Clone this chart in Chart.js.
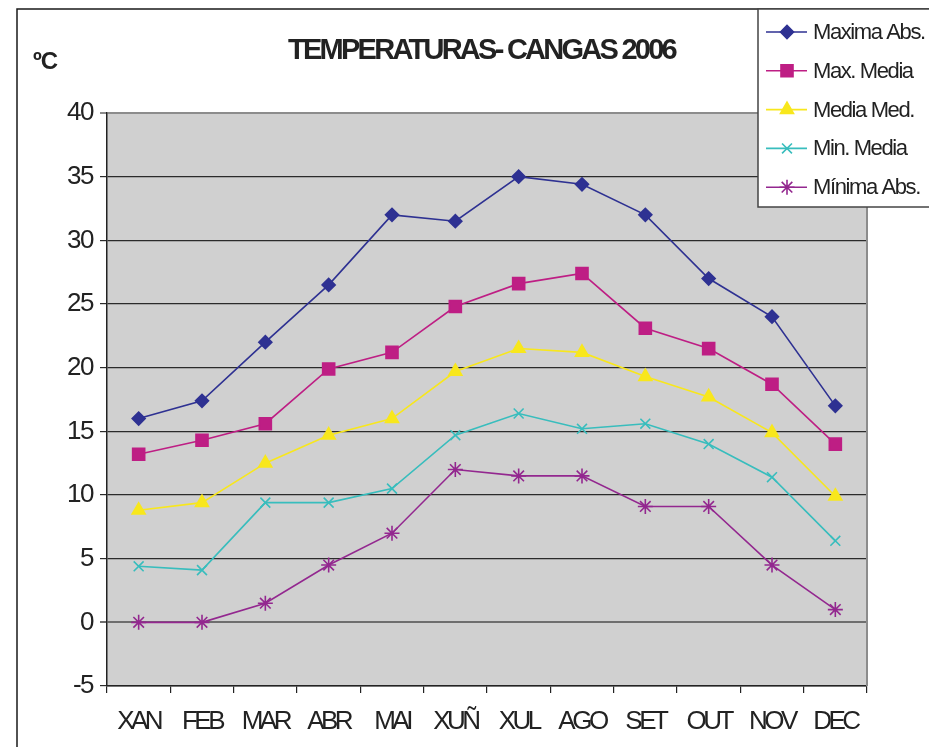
<!DOCTYPE html>
<html>
<head>
<meta charset="utf-8">
<script src="https://cdn.jsdelivr.net/npm/chart.js@4/dist/chart.umd.min.js"></script>
<style>
  html, body { margin: 0; padding: 0; background: #fff; }
  #wrap { position: relative; width: 929px; height: 747px; }
</style>
</head>
<body>
<div id="wrap"><canvas id="myChart" width="929" height="747"></canvas></div>
<script>
const meses = ['XAN', 'FEB', 'MAR', 'ABR', 'MAI', 'XUÑ', 'XUL', 'AGO', 'SET', 'OUT', 'NOV', 'DEC'];
const maximaAbs = [16, 17.4, 22, 26.5, 32, 31.5, 35, 34.4, 32, 27, 24, 17];
const maxMedia = [13.2, 14.3, 15.6, 19.9, 21.2, 24.8, 26.6, 27.4, 23.1, 21.5, 18.7, 14];
const mediaMed = [8.8, 9.4, 12.5, 14.7, 16, 19.7, 21.5, 21.2, 19.3, 17.7, 14.9, 9.9];
const minMedia = [4.4, 4.1, 9.4, 9.4, 10.5, 14.7, 16.4, 15.2, 15.6, 14, 11.4, 6.4];
const minimaAbs = [0, 0, 1.5, 4.5, 7, 12, 11.5, 11.5, 9.1, 9.1, 4.5, 1];
const yMin = -5;
const yMax = 40;
const yPaso = 5;
const titulo = 'TEMPERATURAS- CANGAS 2006';
const unidade = 'ºC';

const fonte = "'Liberation Sans', Arial, sans-serif";

function serie(label, data, color, estilo, radio) {
    return {
        label: label,
        data: data,
        borderColor: color,
        backgroundColor: color,
        pointBackgroundColor: color,
        pointBorderColor: color,
        pointStyle: estilo,
        pointRadius: radio,
        pointHoverRadius: radio,
        pointBorderWidth: 1.6,
        borderWidth: 1.6,
        tension: 0
    };
}

// fondo gris, marco e textos
const decoracion = {
    id: 'decoracion',
    beforeDraw(chart) {
        const ctx = chart.ctx;
        const a = chart.chartArea;
        ctx.save();
        ctx.fillStyle = '#fff';
        ctx.fillRect(0, 0, chart.width, chart.height);
        ctx.fillStyle = '#d0d0d0';
        ctx.fillRect(a.left, a.top, a.right - a.left, a.bottom - a.top);
        ctx.restore();
        ctx.letterSpacing = '-1.5px';
    },
    afterDatasetsDraw(chart) {
        chart.ctx.letterSpacing = '-3.5px';
    },
    afterDraw(chart) {
        const ctx = chart.ctx;
        const a = chart.chartArea;
        ctx.letterSpacing = '0px';
        ctx.save();

        // borde dereito do area
        ctx.strokeStyle = '#8c8c8c';
        ctx.lineWidth = 2;
        ctx.beginPath();
        ctx.moveTo(a.right, a.top);
        ctx.lineTo(a.right, a.bottom);
        ctx.stroke();

        // marco exterior
        ctx.strokeStyle = '#1a1a1a';
        ctx.lineWidth = 1.5;
        ctx.beginPath();
        ctx.moveTo(17, chart.height + 5);
        ctx.lineTo(17, 9);
        ctx.lineTo(chart.width + 5, 9);
        ctx.stroke();

        // titulo
        ctx.fillStyle = '#222';
        ctx.font = 'bold 29px ' + fonte;
        ctx.textBaseline = 'middle';
        ctx.textAlign = 'left';
        const w0 = ctx.measureText(titulo).width;
        const esp = (387 - w0) / titulo.length;
        ctx.letterSpacing = esp + 'px';
        ctx.fillText(titulo, 288, 51);

        ctx.font = 'bold 24px ' + fonte;
        ctx.letterSpacing = '-1px';
        ctx.fillText(unidade, 33, 62);

        // lenda
        ctx.letterSpacing = '0px';
        ctx.fillStyle = '#fff';
        ctx.fillRect(758, 9, 200, 198);
        ctx.strokeStyle = '#444';
        ctx.lineWidth = 1.5;
        ctx.strokeRect(758, 9, 200, 198);

        ctx.font = '22px ' + fonte;
        ctx.letterSpacing = '-1.4px';
        chart.data.datasets.forEach((ds, i) => {
            const y = 32 + i * 38.8;
            ctx.strokeStyle = ds.borderColor;
            ctx.lineWidth = 1.6;
            ctx.beginPath();
            ctx.moveTo(766, y);
            ctx.lineTo(807, y);
            ctx.stroke();
            ctx.fillStyle = ds.backgroundColor;
            ctx.strokeStyle = ds.borderColor;
            ctx.lineWidth = 1.6;
            if (Chart.helpers && Chart.helpers.drawPoint) {
                Chart.helpers.drawPoint(ctx, {
                    pointStyle: ds.pointStyle,
                    radius: ds.pointRadius,
                    rotation: 0,
                    borderWidth: 1.6
                }, 787, y);
            }
            ctx.fillStyle = '#222';
            ctx.textBaseline = 'middle';
            ctx.fillText(ds.label, 813, y + 1);
        });
        ctx.restore();
        ctx.letterSpacing = '0px';
    }
};

const ctx = document.getElementById('myChart').getContext('2d');
const myChart = new Chart(ctx, {
    type: 'line',
    data: {
        labels: meses,
        datasets: [
            serie('Maxima Abs.', maximaAbs, '#2e3192', 'rectRot', 6.5),
            serie('Max. Media', maxMedia, '#be1e84', 'rect', 8.5),
            serie('Media Med.', mediaMed, '#f8e71c', 'triangle', 7.5),
            serie('Min. Media', minMedia, '#38bdbd', 'crossRot', 7),
            serie('Mínima Abs.', minimaAbs, '#93278f', 'star', 7.5)
        ]
    },
    options: {
        responsive: false,
        animation: false,
        events: [],
        layout: {
            padding: { left: 0, top: 113, right: 62, bottom: 0 }
        },
        plugins: {
            legend: { display: false },
            title: { display: false },
            tooltip: { enabled: false }
        },
        scales: {
            x: {
                offset: true,
                afterFit(scale) { scale.height = 61; },
                grid: {
                    offset: true,
                    drawOnChartArea: false,
                    drawTicks: true,
                    tickLength: 7,
                    color: '#222',
                    lineWidth: 1.2
                },
                border: { color: '#222', width: 1.5 },
                ticks: {
                    z: 1,
                    padding: 13,
                    color: '#222',
                    maxRotation: 0,
                    autoSkip: false,
                    font: { family: fonte, size: 26 }
                }
            },
            y: {
                min: yMin,
                max: yMax,
                afterFit(scale) { scale.width = 107; },
                grid: {
                    drawTicks: true,
                    tickLength: 7,
                    color: (c) => {
                        if (c.tick && c.tick.value === yMax) return '#8c8c8c';
                        if (c.tick && c.tick.value === 0) return '#6e6e6e';
                        return '#2b2b2b';
                    },
                    lineWidth: (c) => {
                        if (c.tick && (c.tick.value === yMax || c.tick.value === 0)) return 2;
                        return 1.2;
                    }
                },
                border: { color: '#222', width: 1.5 },
                ticks: {
                    stepSize: yPaso,
                    padding: 7,
                    color: '#222',
                    font: { family: fonte, size: 26 }
                }
            }
        }
    },
    plugins: [decoracion]
});
</script>
</body>
</html>
